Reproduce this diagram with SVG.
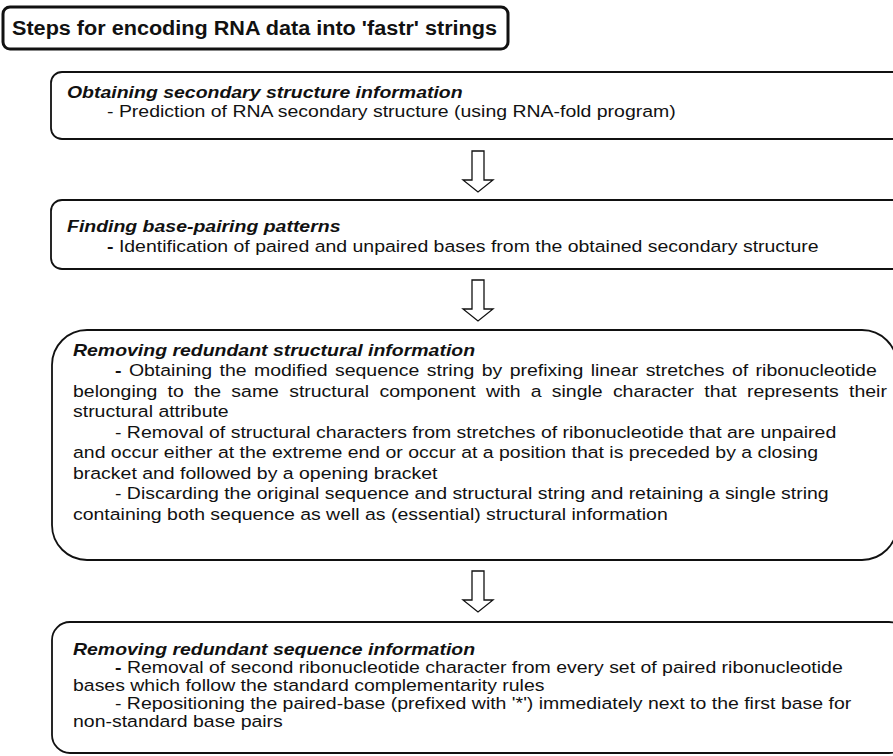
<svg xmlns="http://www.w3.org/2000/svg" width="893" height="756" viewBox="0 0 893 756">
<style>
.box{fill:#fff;stroke:#111;stroke-width:1.8}
.t{font-family:"Liberation Sans",Arial,sans-serif;font-size:16.5px;fill:#111}
.h{font-weight:bold;font-style:italic}
.b{font-weight:bold}
.arr{fill:#fff;stroke:#111;stroke-width:1.3;stroke-linejoin:miter}
</style>
<rect width="893" height="756" fill="#fff"/>
<g id="title">
<rect x="3" y="7" width="505" height="42" rx="7" fill="#fff" stroke="#111" stroke-width="3"/>
<text x="12" y="35" font-family="Liberation Sans, Arial, sans-serif" font-size="20" font-weight="bold" fill="#111" textLength="485" lengthAdjust="spacingAndGlyphs">Steps for encoding RNA data into 'fastr' strings</text>
</g>
<g id="connectors">
<path class="arr" d="M472,151 H484 V180 H493 L478,192 L463,180 H472 Z"/>
<path class="arr" d="M472,280 H484 V309 H493 L478,321 L463,309 H472 Z"/>
<path class="arr" d="M472,571 H484 V600 H493 L478,612 L463,600 H472 Z"/>
</g>
<g id="step1">
<rect class="box" x="51" y="72" width="880" height="67" rx="11"/>
<g transform="scale(1.18,1)" class="t">
<text x="56.78" y="98" class="h">Obtaining secondary structure information</text>
<text x="90.68" y="117">- Prediction of RNA secondary structure (using RNA-fold program)</text>
</g>
</g>
<g id="step2">
<rect class="box" x="51" y="200" width="880" height="69" rx="11"/>
<g transform="scale(1.18,1)" class="t">
<text x="56.78" y="232" class="h">Finding base-pairing patterns</text>
<text x="90.68" y="252"><tspan class="b">-</tspan> Identification of paired and unpaired bases from the obtained secondary structure</text>
</g>
</g>
<g id="step3">
<rect class="box" x="52" y="330" width="845" height="230" rx="35"/>
<g transform="scale(1.18,1)" class="t">
<text x="61.86" y="356" class="h">Removing redundant structural information</text>
<text x="97.46" y="376.5" word-spacing="1.7"><tspan class="b">-</tspan> Obtaining the modified sequence string by prefixing linear stretches of ribonucleotide</text>
<text x="61.86" y="397" word-spacing="4.1">belonging to the same structural component with a single character that represents their</text>
<text x="61.86" y="417.5">structural attribute</text>
<text x="97.46" y="438">- Removal of structural characters from stretches of ribonucleotide that are unpaired</text>
<text x="61.86" y="458.5">and occur either at the extreme end or occur at a position that is preceded by a closing</text>
<text x="61.86" y="479">bracket and followed by a opening bracket</text>
<text x="97.46" y="499.5">- Discarding the original sequence and structural string and retaining a single string</text>
<text x="61.86" y="520">containing both sequence as well as (essential) structural information</text>
</g>
</g>
<g id="step4">
<rect class="box" x="52" y="622" width="855" height="131" rx="18"/>
<g transform="scale(1.18,1)" class="t">
<text x="61.86" y="655" class="h">Removing redundant sequence information</text>
<text x="97.46" y="673"><tspan class="b">-</tspan> Removal of second ribonucleotide character from every set of paired ribonucleotide</text>
<text x="61.86" y="691">bases which follow the standard complementarity rules</text>
<text x="97.46" y="709">- Repositioning the paired-base (prefixed with '*') immediately next to the first base for</text>
<text x="61.86" y="727">non-standard base pairs</text>
</g>
</g>
</svg>
